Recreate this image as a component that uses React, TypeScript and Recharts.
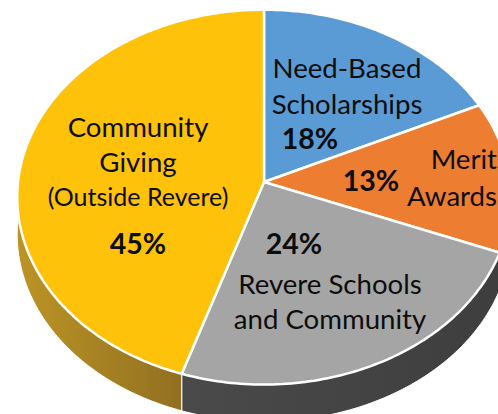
import { PieChart, Pie } from 'recharts';

const categories = ['Need-Based Scholarships', 'Merit Awards', 'Revere Schools and Community', 'Community Giving'];
const shares = [18, 13, 24, 45];
const topColors = ['#5B9BD5', '#ED7D31', '#A5A5A5', '#FFC20A'];
const wallColors = ['#2E75B6', 'url(#wallOrange)', 'url(#wallGrey)', 'url(#wallGold)'];

const labelLines = [
  ['Need-Based', 'Scholarships'],
  ['Merit', 'Awards'],
  ['Revere Schools', 'and Community'],
  ['Community', 'Giving', '(Outside Revere)'],
];

const data = categories.map((name, i) => ({ name, value: shares[i] }));

const WALL_DEPTH = 37;
const TILT = 0.0806; // perspective of the tilted disc
const SQUASH = 0.757;

// pie angle -> point on the tilted disc
const project = (cx: number, cy: number, r: number, angle: number, drop = 0) => {
  const t = ((90 - angle) * Math.PI) / 180;
  const x = Math.sin(t);
  const y = -Math.cos(t);
  const d = 1 - TILT * y;
  return [cx + (r * x) / d, cy + (r * SQUASH * y) / d + drop];
};

const rimPoints = (p: any, drop = 0) => {
  const pts = [];
  const steps = Math.max(2, Math.ceil(Math.abs(p.endAngle - p.startAngle)));
  for (let i = 0; i <= steps; i++) {
    const a = p.startAngle + ((p.endAngle - p.startAngle) * i) / steps;
    pts.push(project(p.cx, p.cy, p.outerRadius, a, drop));
  }
  return pts;
};

const toPath = (pts: number[][]) =>
  'M' + pts.map((q) => q[0].toFixed(1) + ',' + q[1].toFixed(1)).join('L') + 'Z';

const TopSlice = (p: any) => (
  <path d={toPath([[p.cx, p.cy], ...rimPoints(p)])} fill={topColors[p.index]} stroke="#fff" strokeWidth={2.5} strokeLinejoin="round" />
);

const WallSlice = (p: any) => (
  <path
    d={toPath([...rimPoints(p), ...rimPoints(p, WALL_DEPTH).reverse()])}
    fill={wallColors[p.index]}
    stroke="#fff"
    strokeWidth={1}
  />
);

// label placement per slice: x, first line y, line gap, percent x, percent y
const labelSpots = [
  { x: 347, y: 67, gap: 36, px: 310, py: 138, anchor: 'middle' },
  { x: 497, y: 158, gap: 37, px: 371, py: 180, anchor: 'end' },
  { x: 330, y: 283, gap: 35, px: 294, py: 243, anchor: 'middle' },
  { x: 138, y: 126, gap: 35, px: 138, py: 243, anchor: 'middle' },
];

const SliceLabel = (p: any) => {
  const s = labelSpots[p.index];
  return (
    <g fill="#0d0d0d" fontFamily="Lato, 'Open Sans', sans-serif">
      {labelLines[p.index].map((line, i) => (
        <text
          key={line}
          x={s.x}
          y={s.y + s.gap * i}
          textAnchor={s.anchor as any}
          dominantBaseline="central"
          fontSize={line.startsWith('(') ? 25 : 27.6}
        >
          {line}
        </text>
      ))}
      <text x={s.px} y={s.py} textAnchor="middle" dominantBaseline="central" fontSize={28.5} fontWeight={700}>
        {p.value}%
      </text>
    </g>
  );
};

export default function App() {
  return (
    <div style={{ position: 'absolute', left: 0, top: 0, width: 498, height: 414, overflow: 'hidden', background: '#fff' }}>
      <PieChart width={498} height={414} margin={{ top: 0, right: 0, bottom: 0, left: 0 }}>
        <defs>
          <linearGradient id="wallGold" x1="0" y1="0" x2="1" y2="0">
            <stop offset="0" stopColor="#BC9424" />
            <stop offset="1" stopColor="#7C5E20" />
          </linearGradient>
          <linearGradient id="wallGrey" x1="0" y1="0" x2="1" y2="0">
            <stop offset="0" stopColor="#4A4A4A" />
            <stop offset="1" stopColor="#3E3E3E" />
          </linearGradient>
          <linearGradient id="wallOrange" x1="0" y1="0" x2="1" y2="0">
            <stop offset="0" stopColor="#B85F22" />
            <stop offset="1" stopColor="#8A4A1C" />
          </linearGradient>
        </defs>
        <Pie
          data={data}
          dataKey="value"
          cx={264}
          cy={182}
          outerRadius={246}
          startAngle={90}
          endAngle={-270}
          shape={WallSlice}
          label={false}
          isAnimationActive={false}
        />
        <Pie
          data={data}
          dataKey="value"
          cx={264}
          cy={182}
          outerRadius={246}
          startAngle={90}
          endAngle={-270}
          shape={TopSlice}
          label={SliceLabel}
          labelLine={false}
          isAnimationActive={false}
        />
      </PieChart>
    </div>
  );
}
